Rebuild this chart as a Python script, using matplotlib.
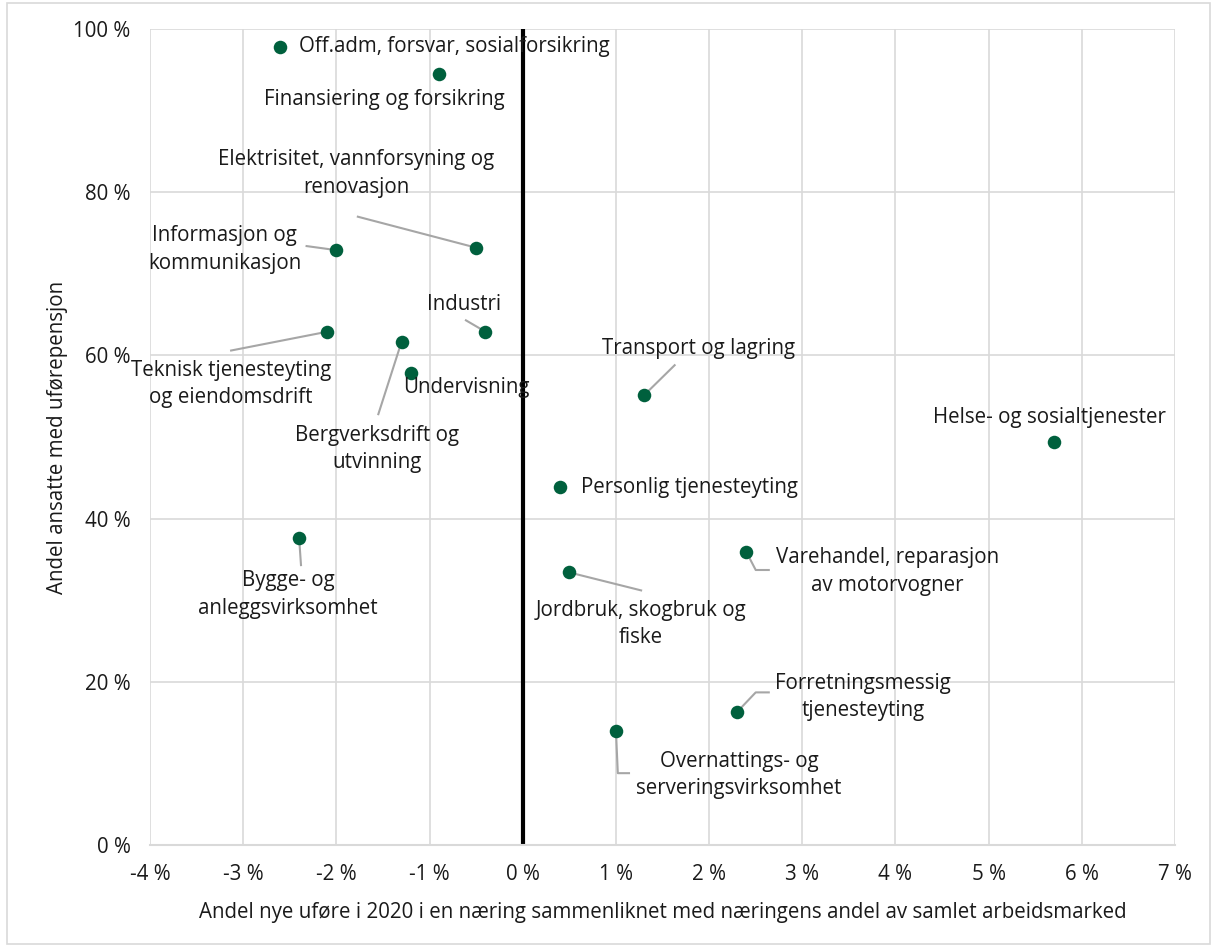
import matplotlib
matplotlib.use("Agg")
import matplotlib.pyplot as plt
from matplotlib.patches import Rectangle
from matplotlib.ticker import FuncFormatter, MultipleLocator

plt.rcParams['font.family'] = ['Open Sans', 'DejaVu Sans']

# Næringer: andel nye uføre (relativ, %) og andel ansatte med uførepensjon (%)
naeringer = [
    "Off.adm, forsvar, sosialforsikring",
    "Finansiering og forsikring",
    "Elektrisitet, vannforsyning og\nrenovasjon",
    "Informasjon og\nkommunikasjon",
    "Industri",
    "Teknisk tjenesteyting\nog eiendomsdrift",
    "Bergverksdrift og\nutvinning",
    "Undervisning",
    "Transport og lagring",
    "Helse- og sosialtjenester",
    "Personlig tjenesteyting",
    "Bygge- og\nanleggsvirksomhet",
    "Varehandel, reparasjon\nav motorvogner",
    "Jordbruk, skogbruk og\nfiske",
    "Forretningsmessig\ntjenesteyting",
    "Overnattings- og\nserveringsvirksomhet",
]
andel_nye_ufore = [-2.6, -0.9, -0.5, -2.0, -0.4, -2.1, -1.3, -1.2,
                   1.3, 5.7, 0.4, -2.4, 2.4, 0.5, 2.3, 1.0]
andel_med_ufore = [97.8, 94.5, 73.2, 72.9, 62.9, 62.9, 61.7, 57.8,
                   55.1, 49.4, 43.9, 37.6, 35.9, 33.4, 16.3, 14.0]

# Etikettplassering (x, y, justering) og knekkpunkter for hjelpelinjer
etikett_pos = [
    (-2.40, 97.8, 'left'), (-1.48, 91.4, 'center'), (-1.79, 82.3, 'center'),
    (-3.20, 73.0, 'center'), (-0.63, 66.3, 'center'), (-3.13, 56.5, 'center'),
    (-1.56, 48.5, 'center'), (-0.60, 56.1, 'center'), (1.89, 60.8, 'center'),
    (5.65, 52.4, 'center'), (0.62, 43.8, 'left'), (-2.52, 30.7, 'center'),
    (3.91, 33.5, 'center'), (1.27, 27.1, 'center'), (3.65, 18.1, 'center'),
    (2.32, 8.6, 'center'),
]
hjelpelinjer = [
    [], [], [(-1.77, 77.0)], [(-2.32, 73.4)], [(-0.61, 64.3)], [(-3.13, 60.6)],
    [(-1.55, 52.8)], [], [(1.63, 58.8)], [], [], [(-2.38, 34.3)],
    [(2.50, 33.7), (2.64, 33.7)], [(1.27, 31.2)],
    [(2.50, 18.7), (2.64, 18.7)], [(1.02, 8.8), (1.14, 8.8)],
]

gronn = '#00603d'
grid_farge = '#d9d9d9'
tekst_farge = '#1a1a1a'
fs = 14.8

fig = plt.figure(figsize=(12.12, 9.46), dpi=100)
fig.patches.append(Rectangle((0.006, 0.002), 0.992, 0.995, transform=fig.transFigure,
                             fill=False, edgecolor='#d9d9d9', lw=1.2))
ax = fig.add_axes([0.1238, 0.1068, 0.8457, 0.8625])

ax.set_xlim(-4, 7)
ax.set_ylim(0, 100)
ax.xaxis.set_major_locator(MultipleLocator(1))
ax.yaxis.set_major_locator(MultipleLocator(20))
ax.xaxis.set_major_formatter(FuncFormatter(lambda v, p: f"{v:.0f} %"))
ax.yaxis.set_major_formatter(FuncFormatter(lambda v, p: f"{v:.0f} %"))
ax.grid(True, color=grid_farge, lw=1.2, zorder=0)
ax.set_axisbelow(True)
for side in ['top', 'right', 'left']:
    ax.spines[side].set_visible(False)
ax.spines['bottom'].set_color(grid_farge)
ax.spines['bottom'].set_linewidth(1.5)
ax.tick_params(length=0, labelsize=fs, colors=tekst_farge)
ax.tick_params(axis='x', pad=14)
ax.tick_params(axis='y', pad=14)

# Nullinje
ax.axvline(0, color='black', lw=3, zorder=2)

# Hjelpelinjer fra punkt til etikett
for x, y, knekk in zip(andel_nye_ufore, andel_med_ufore, hjelpelinjer):
    if knekk:
        xs = [x] + [k[0] for k in knekk]
        ys = [y] + [k[1] for k in knekk]
        ax.plot(xs, ys, color='#a6a6a6', lw=1.5, zorder=3)

ax.scatter(andel_nye_ufore, andel_med_ufore, s=95, color=gronn, zorder=4, linewidths=0)

for navn, (tx, ty, ha) in zip(naeringer, etikett_pos):
    ax.text(tx, ty, navn, ha=ha, va='center', fontsize=fs, color=tekst_farge,
            linespacing=1.4, zorder=5)

ax.set_xlabel("Andel nye uføre i 2020 i en næring sammenliknet med næringens andel av samlet arbeidsmarked",
              fontsize=fs, color=tekst_farge, labelpad=12)
ax.set_ylabel("Andel ansatte med uførepensjon", fontsize=fs, color=tekst_farge, labelpad=4)

fig.savefig("out.png", dpi=100, facecolor='white')
